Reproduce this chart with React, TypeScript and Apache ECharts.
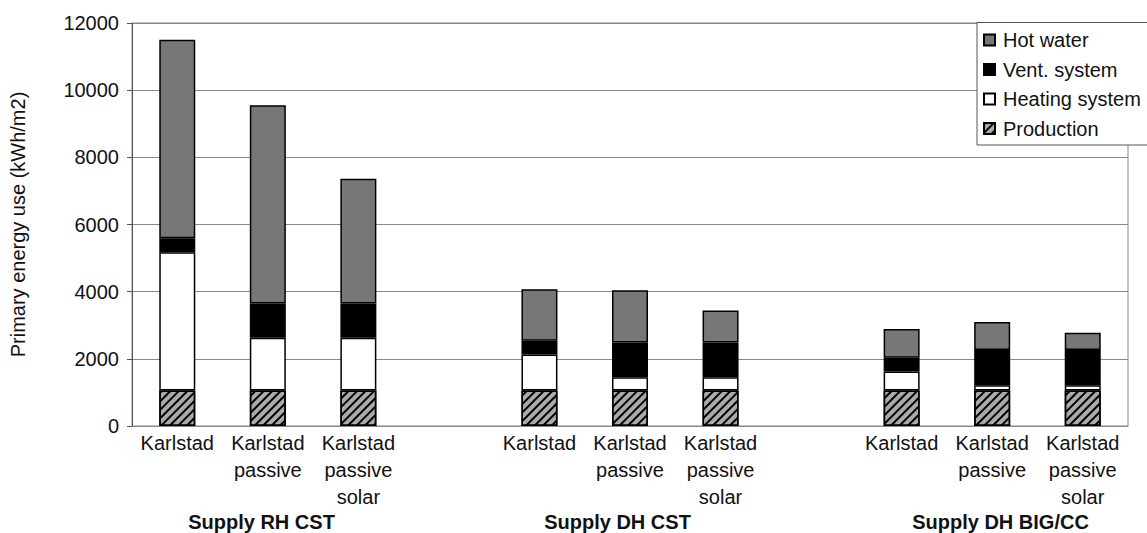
import React, { useEffect, useRef } from "react";
import * as echarts from "echarts";

const categories = [
  "Karlstad",
  "Karlstad\npassive",
  "Karlstad\npassive\nsolar",
  "",
  "Karlstad",
  "Karlstad\npassive",
  "Karlstad\npassive\nsolar",
  "",
  "Karlstad",
  "Karlstad\npassive",
  "Karlstad\npassive\nsolar",
];
const production = [1060, 1060, 1060, null, 1060, 1060, 1060, null, 1060, 1060, 1060];
const heatingSystem = [4110, 1570, 1570, null, 1070, 390, 390, null, 560, 150, 150];
const ventSystem = [420, 1020, 1020, null, 410, 1040, 1040, null, 410, 1050, 1050];
const hotWater = [5910, 5900, 3710, null, 1530, 1550, 950, null, 860, 840, 520];
const groupLabels = ["Supply RH CST", "Supply DH CST", "Supply DH BIG/CC"];
const legendOrder = ["Hot water", "Vent. system", "Heating system", "Production"];
const yTicks = { min: 0, max: 12000, interval: 2000 };

const FONT = "'Liberation Sans', Arial, sans-serif";

export default function App() {
  const ref = useRef<HTMLDivElement>(null);
  useEffect(() => {
    if (!ref.current) return;
    const chart = echarts.init(ref.current, null, { renderer: "svg" });
    const border = { borderColor: "#000", borderWidth: 1.5 };
    const option: any = {
      animation: false,
      backgroundColor: "#fff",
      textStyle: { fontFamily: FONT },
      grid: {
        left: 132,
        right: 19,
        top: 23,
        bottom: 107,
        show: true,
        borderColor: "#888",
        borderWidth: 1,
      },
      legend: {
        orient: "vertical",
        left: 983,
        top: 30,
        padding: 0,
        icon: "rect",
        itemWidth: 11,
        itemHeight: 11,
        itemGap: 9.5,
        data: legendOrder,
        textStyle: { fontSize: 20, color: "#111", fontFamily: FONT, lineHeight: 20, padding: [0, 0, 0, 3] },
        z: 10,
      },
      graphic: [
        {
          type: "rect",
          z: 5,
          shape: { x: 977, y: 22.5, width: 185, height: 122.5 },
          style: { fill: "#fff", stroke: "#555", lineWidth: 1 },
        },
        ...groupLabels.map((t, i) => ({
          type: "text",
          z: 5,
          x: [261.5, 617.5, 1000.5][i],
          y: 521.5,
          style: {
            text: t,
            fontSize: 20,
            fontWeight: "bold",
            fontFamily: FONT,
            fill: "#111",
            textAlign: "center",
            textVerticalAlign: "middle",
          },
        })),
      ],
      xAxis: {
        type: "category",
        data: categories,
        axisLine: { show: true, lineStyle: { color: "#888", width: 1 } },
        axisTick: { show: false },
        axisLabel: {
          interval: 0,
          fontSize: 20,
          lineHeight: 27,
          color: "#111",
          margin: 3,
          fontFamily: FONT,
        },
      },
      yAxis: {
        type: "value",
        min: yTicks.min,
        max: yTicks.max,
        interval: yTicks.interval,
        name: "Primary energy use (kWh/m2)",
        nameLocation: "middle",
        nameGap: 104,
        nameTextStyle: { fontSize: 20, color: "#111", fontFamily: FONT },
        axisLine: { show: true, lineStyle: { color: "#555", width: 1 } },
        axisTick: { show: true, length: 5, lineStyle: { color: "#555" } },
        axisLabel: {
          fontSize: 20,
          color: "#111",
          margin: 13,
          fontFamily: FONT,
          formatter: (v: number) => String(v),
        },
        splitLine: { show: true, lineStyle: { color: "#888", width: 1 } },
      },
      series: [
        {
          name: "Production",
          type: "bar",
          stack: "total",
          barWidth: 36,
          data: production,
          itemStyle: {
            color: "#aaaaaa",
            ...border,
            decal: {
              symbol: "rect",
              symbolSize: 1,
              color: "#000",
              dashArrayX: [1, 0],
              dashArrayY: [2, 4],
              rotation: -Math.PI / 4,
            },
          },
        },
        {
          name: "Heating system",
          type: "bar",
          stack: "total",
          barWidth: 36,
          data: heatingSystem,
          itemStyle: { color: "#fff", ...border },
        },
        {
          name: "Vent. system",
          type: "bar",
          stack: "total",
          barWidth: 36,
          data: ventSystem,
          itemStyle: { color: "#000", ...border },
        },
        {
          name: "Hot water",
          type: "bar",
          stack: "total",
          barWidth: 36,
          data: hotWater,
          itemStyle: { color: "#777777", ...border },
        },
      ],
    };
    chart.setOption(option);
    return () => chart.dispose();
  }, []);
  return (
    <div
      ref={ref}
      style={{ position: "fixed", left: 0, top: 0, width: 1147, height: 533, background: "#fff" }}
    />
  );
}
